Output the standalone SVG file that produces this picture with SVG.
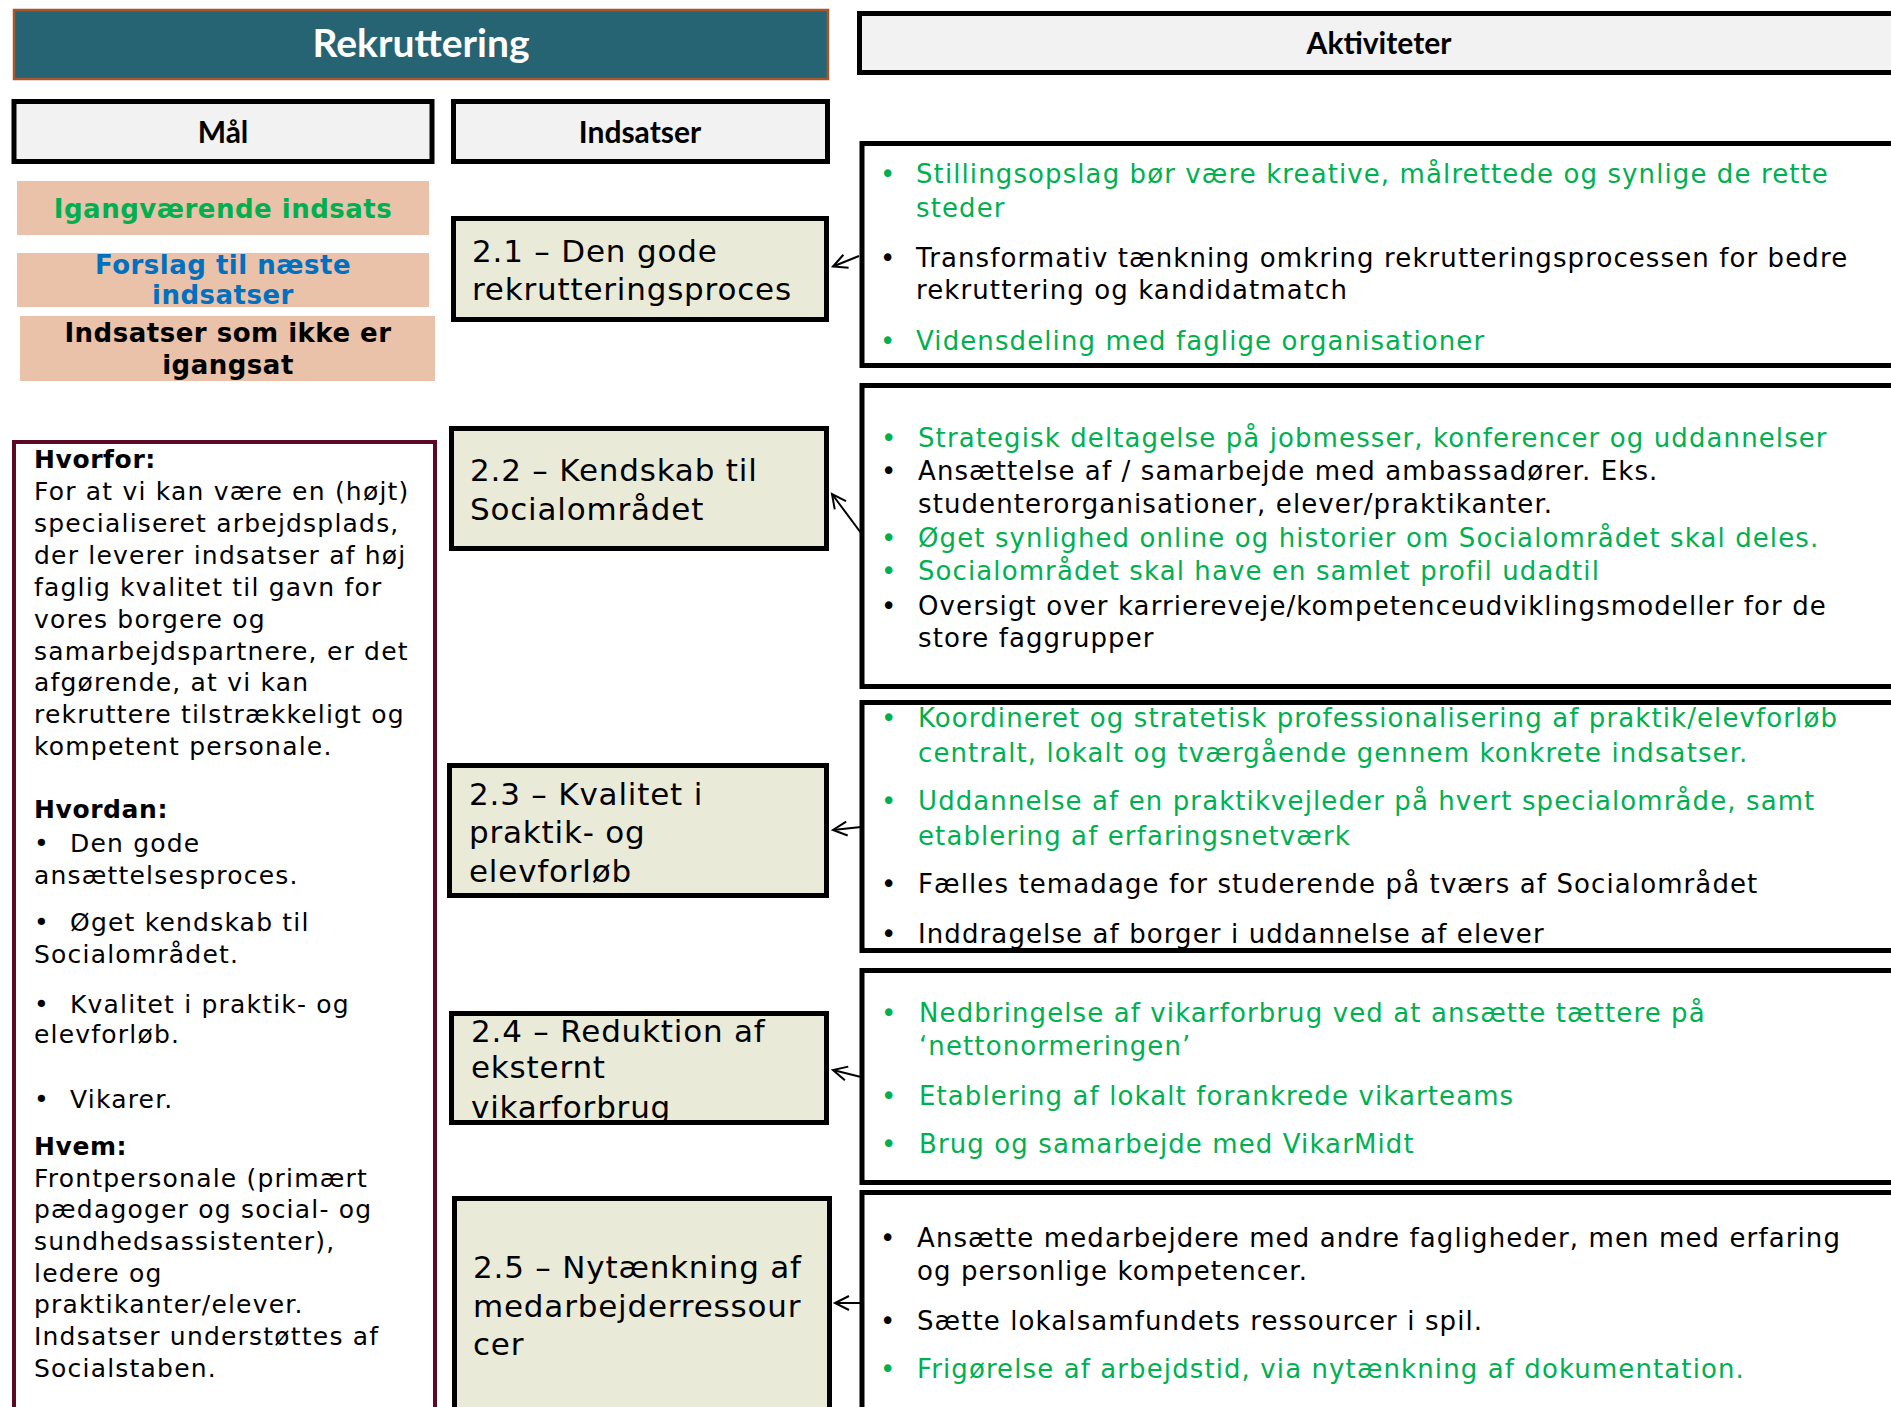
<svg xmlns="http://www.w3.org/2000/svg" width="1891" height="1407" viewBox="0 0 1891 1407">
<style>
.hdr{font-family:Lato,"Liberation Sans",sans-serif;font-weight:700;font-size:30px;fill:#000;text-anchor:middle}
.ttl{font-family:Lato,"Liberation Sans",sans-serif;font-weight:700;font-size:39px;fill:#fff;text-anchor:middle}
.hbox{fill:#f2f2f2;stroke:#000;stroke-width:5}
.leg{fill:#eac1a9}
.legt{font-family:"DejaVu Sans",Verdana,sans-serif;font-weight:700;font-size:26px;letter-spacing:0.5px;text-anchor:middle}
.ind{fill:#eaead9;stroke:#000;stroke-width:5}
.indt{font-family:"DejaVu Sans",Verdana,sans-serif;font-size:31px;letter-spacing:0.8px;fill:#000}
.act{fill:#fff;stroke:#000;stroke-width:5}
.at{font-family:"DejaVu Sans",Verdana,sans-serif;font-size:26px;letter-spacing:1.1px;fill:#000}
.g{fill:#00b050}
.lt{font-family:"DejaVu Sans",Verdana,sans-serif;font-size:25px;letter-spacing:1.2px;fill:#000}
.b{font-weight:700;letter-spacing:0.6px}
.conn{stroke:#000;stroke-width:2;fill:none}
</style>
<defs>
<marker id="ah" markerUnits="userSpaceOnUse" markerWidth="24" markerHeight="24" viewBox="-16 -12 24 24" refX="0" refY="0" orient="auto">
<path d="M-14,-7 L0,0 L-14,7" fill="none" stroke="#000" stroke-width="2"/>
</marker>
<clipPath id="c3"><rect x="862" y="702" width="1100" height="248.5"/></clipPath>
<clipPath id="c24"><rect x="451" y="1013" width="375" height="107.5"/></clipPath>
</defs>

<g id="title">
<rect x="14" y="10" width="814" height="69" fill="#276473" stroke="#a9562a" stroke-width="2.5"/>
<text class="ttl" x="421" y="57">Rekruttering</text>
</g>

<g id="hdr-maal">
<rect class="hbox" x="14" y="101.5" width="418" height="60"/>
<text class="hdr" x="223" y="143">Mål</text>
</g>
<g id="hdr-indsatser">
<rect class="hbox" x="453.5" y="101.5" width="374" height="60"/>
<text class="hdr" x="640" y="143">Indsatser</text>
</g>
<g id="hdr-aktiviteter">
<rect class="hbox" x="859.5" y="13.5" width="1100" height="59"/>
<text class="hdr" x="1379" y="54">Aktiviteter</text>
</g>

<g id="legend-igang">
<rect class="leg" x="17" y="181" width="412" height="54"/>
<text class="legt" x="223" y="218" fill="#00b050">Igangværende indsats</text>
</g>
<g id="legend-forslag">
<rect class="leg" x="17" y="253" width="412" height="54"/>
<text class="legt" x="223" y="274" fill="#0070c0">Forslag til næste</text>
<text class="legt" x="223" y="304" fill="#0070c0">indsatser</text>
</g>
<g id="legend-ikke">
<rect class="leg" x="20" y="316" width="415" height="65"/>
<text class="legt" x="228" y="342" fill="#000">Indsatser som ikke er</text>
<text class="legt" x="228" y="374" fill="#000">igangsat</text>
</g>

<g id="maal">
<rect x="14" y="442" width="421" height="1000" fill="#fff" stroke="#5c0a23" stroke-width="4"/>
<text class="lt b" x="34" y="468">Hvorfor:</text>
<text class="lt" x="34" y="500">For at vi kan være en (højt)</text>
<text class="lt" x="34" y="532">specialiseret arbejdsplads,</text>
<text class="lt" x="34" y="564">der leverer indsatser af høj</text>
<text class="lt" x="34" y="596">faglig kvalitet til gavn for</text>
<text class="lt" x="34" y="628">vores borgere og</text>
<text class="lt" x="34" y="660">samarbejdspartnere, er det</text>
<text class="lt" x="34" y="691">afgørende, at vi kan</text>
<text class="lt" x="34" y="723">rekruttere tilstrækkeligt og</text>
<text class="lt" x="34" y="755">kompetent personale.</text>
<text class="lt b" x="34" y="818">Hvordan:</text>
<text class="lt" x="34" y="852">•</text><text class="lt" x="70" y="852">Den gode</text>
<text class="lt" x="34" y="884">ansættelsesproces.</text>
<text class="lt" x="34" y="931">•</text><text class="lt" x="70" y="931">Øget kendskab til</text>
<text class="lt" x="34" y="963">Socialområdet.</text>
<text class="lt" x="34" y="1013">•</text><text class="lt" x="70" y="1013">Kvalitet i praktik- og</text>
<text class="lt" x="34" y="1043">elevforløb.</text>
<text class="lt" x="34" y="1108">•</text><text class="lt" x="70" y="1108">Vikarer.</text>
<text class="lt b" x="34" y="1155">Hvem:</text>
<text class="lt" x="34" y="1187">Frontpersonale (primært</text>
<text class="lt" x="34" y="1218">pædagoger og social- og</text>
<text class="lt" x="34" y="1250">sundhedsassistenter),</text>
<text class="lt" x="34" y="1282">ledere og</text>
<text class="lt" x="34" y="1313">praktikanter/elever.</text>
<text class="lt" x="34" y="1345">Indsatser understøttes af</text>
<text class="lt" x="34" y="1377">Socialstaben.</text>
</g>

<g id="ind-2-1">
<rect class="ind" x="453.5" y="218.5" width="373" height="101"/>
<text class="indt" x="472" y="262">2.1 – Den gode</text>
<text class="indt" x="472" y="300">rekrutteringsproces</text>
</g>
<g id="ind-2-2">
<rect class="ind" x="451.5" y="428.5" width="375" height="120"/>
<text class="indt" x="470" y="481">2.2 – Kendskab til</text>
<text class="indt" x="470" y="520">Socialområdet</text>
</g>
<g id="ind-2-3">
<rect class="ind" x="449.5" y="765.5" width="377" height="130"/>
<text class="indt" x="469" y="805">2.3 – Kvalitet i</text>
<text class="indt" x="469" y="843">praktik- og</text>
<text class="indt" x="469" y="882">elevforløb</text>
</g>
<g id="ind-2-4">
<rect class="ind" x="451.5" y="1013.5" width="375" height="109"/>
<g clip-path="url(#c24)">
<text class="indt" x="471" y="1042">2.4 – Reduktion af</text>
<text class="indt" x="471" y="1078">eksternt</text>
<text class="indt" x="471" y="1118">vikarforbrug</text>
</g>
</g>
<g id="ind-2-5">
<rect class="ind" x="454.5" y="1198.5" width="375" height="230"/>
<text class="indt" x="473" y="1278">2.5 – Nytænkning af</text>
<text class="indt" x="473" y="1317">medarbejderressour</text>
<text class="indt" x="473" y="1355">cer</text>
</g>

<g id="akt-1">
<rect class="act" x="862" y="143.5" width="1100" height="222"/>
<text class="at g" x="880" y="183">•</text><text class="at g" x="916" y="183">Stillingsopslag bør være kreative, målrettede og synlige de rette</text>
<text class="at g" x="916" y="217">steder</text>
<text class="at" x="880" y="267">•</text><text class="at" x="916" y="267">Transformativ tænkning omkring rekrutteringsprocessen for bedre</text>
<text class="at" x="916" y="299">rekruttering og kandidatmatch</text>
<text class="at g" x="880" y="350">•</text><text class="at g" x="916" y="350">Vidensdeling med faglige organisationer</text>
</g>
<g id="akt-2">
<rect class="act" x="862" y="385.5" width="1100" height="301"/>
<text class="at g" x="881" y="447">•</text><text class="at g" x="918" y="447">Strategisk deltagelse på jobmesser, konferencer og uddannelser</text>
<text class="at" x="881" y="480">•</text><text class="at" x="918" y="480">Ansættelse af / samarbejde med ambassadører. Eks.</text>
<text class="at" x="918" y="513">studenterorganisationer, elever/praktikanter.</text>
<text class="at g" x="881" y="547">•</text><text class="at g" x="918" y="547">Øget synlighed online og historier om Socialområdet skal deles.</text>
<text class="at g" x="881" y="580">•</text><text class="at g" x="918" y="580">Socialområdet skal have en samlet profil udadtil</text>
<text class="at" x="881" y="615">•</text><text class="at" x="918" y="615">Oversigt over karriereveje/kompetenceudviklingsmodeller for de</text>
<text class="at" x="918" y="647">store faggrupper</text>
</g>
<g id="akt-3">
<rect class="act" x="862" y="702.5" width="1100" height="248"/>
<g clip-path="url(#c3)">
<text class="at g" x="881" y="727">•</text><text class="at g" x="918" y="727">Koordineret og stratetisk professionalisering af praktik/elevforløb</text>
<text class="at g" x="918" y="762">centralt, lokalt og tværgående gennem konkrete indsatser.</text>
<text class="at g" x="881" y="810">•</text><text class="at g" x="918" y="810">Uddannelse af en praktikvejleder på hvert specialområde, samt</text>
<text class="at g" x="918" y="845">etablering af erfaringsnetværk</text>
<text class="at" x="881" y="893">•</text><text class="at" x="918" y="893">Fælles temadage for studerende på tværs af Socialområdet</text>
<text class="at" x="881" y="943">•</text><text class="at" x="918" y="943">Inddragelse af borger i uddannelse af elever</text>
</g>
</g>
<g id="akt-4">
<rect class="act" x="862" y="970.5" width="1100" height="212"/>
<text class="at g" x="881" y="1022">•</text><text class="at g" x="919" y="1022">Nedbringelse af vikarforbrug ved at ansætte tættere på</text>
<text class="at g" x="919" y="1055">‘nettonormeringen’</text>
<text class="at g" x="881" y="1105">•</text><text class="at g" x="919" y="1105">Etablering af lokalt forankrede vikarteams</text>
<text class="at g" x="881" y="1153">•</text><text class="at g" x="919" y="1153">Brug og samarbejde med VikarMidt</text>
</g>
<g id="akt-5">
<rect class="act" x="862" y="1192.5" width="1100" height="300"/>
<text class="at" x="880" y="1247">•</text><text class="at" x="917" y="1247">Ansætte medarbejdere med andre fagligheder, men med erfaring</text>
<text class="at" x="917" y="1280">og personlige kompetencer.</text>
<text class="at" x="880" y="1330">•</text><text class="at" x="917" y="1330">Sætte lokalsamfundets ressourcer i spil.</text>
<text class="at g" x="880" y="1378">•</text><text class="at g" x="917" y="1378">Frigørelse af arbejdstid, via nytænkning af dokumentation.</text>
</g>

<g id="connectors">
<line class="conn" x1="859" y1="256" x2="833" y2="266.5" marker-end="url(#ah)"/>
<line class="conn" x1="861" y1="533" x2="832" y2="494" marker-end="url(#ah)"/>
<line class="conn" x1="861" y1="827" x2="833" y2="830" marker-end="url(#ah)"/>
<line class="conn" x1="861" y1="1077" x2="833" y2="1070" marker-end="url(#ah)"/>
<line class="conn" x1="860" y1="1303" x2="835" y2="1303" marker-end="url(#ah)"/>
</g>
</svg>
